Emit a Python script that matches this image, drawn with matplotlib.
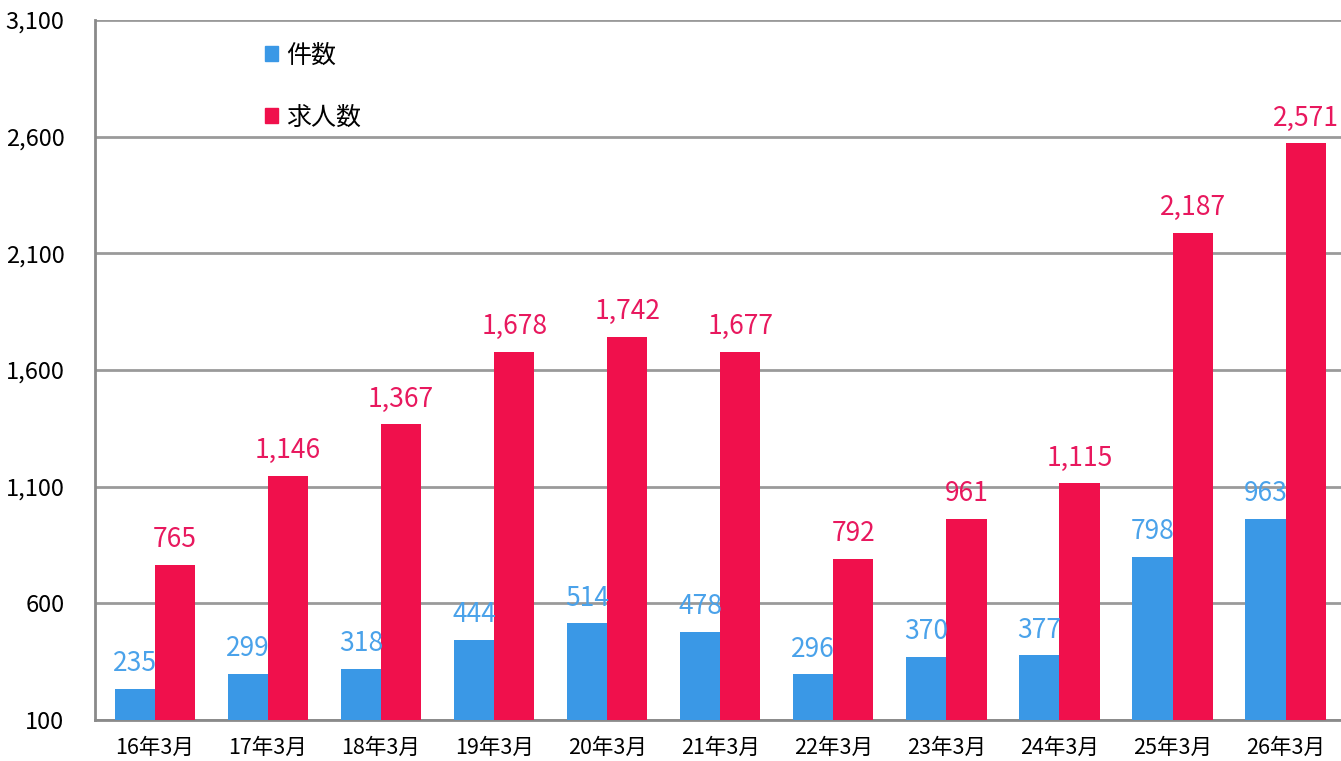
import matplotlib.pyplot as plt
import numpy as np
from matplotlib.patches import Patch

plt.rcParams['font.family'] = ['Noto Sans CJK JP', 'DejaVu Sans']

# === datos ===
months = ["16年3月", "17年3月", "18年3月", "19年3月", "20年3月", "21年3月",
          "22年3月", "23年3月", "24年3月", "25年3月", "26年3月"]
kensu = [235, 299, 318, 444, 514, 478, 296, 370, 377, 798, 963]
kyujin = [765, 1146, 1367, 1678, 1742, 1677, 792, 961, 1115, 2187, 2571]

blue = "#3a98e6"
red = "#f0104c"
blue_txt = "#4aa2ea"
red_txt = "#e8185e"

fig = plt.figure(figsize=(13.41, 7.61), dpi=100)
ax = fig.add_axes([95 / 1341, 41 / 761, 1246 / 1341, 700 / 761])

x = np.arange(len(months))
w = 0.355
ax.bar(x - w / 2, kensu, w, color=blue, zorder=3)
ax.bar(x + w / 2, kyujin, w, color=red, zorder=3)

for xi, v in zip(x, kensu):
    ax.text(xi - w / 2, v + 50, f"{v:,}", ha="center", va="bottom",
            fontsize=19, color=blue_txt, zorder=4)
for xi, v in zip(x, kyujin):
    ax.text(xi + w / 2, v + 50, f"{v:,}", ha="center", va="bottom",
            fontsize=19, color=red_txt, zorder=4)

ax.set_ylim(100, 3100)
ax.set_xlim(-0.53, 10.49)
ax.set_yticks(range(100, 3101, 500))
ax.set_yticklabels([f"{t:,}" for t in range(100, 3101, 500)], fontsize=17)
ax.set_xticks(x)
ax.set_xticklabels(months, fontsize=15.5)
ax.tick_params(axis="both", length=0)
ax.tick_params(axis="y", pad=22)
ax.tick_params(axis="x", pad=12)

ax.yaxis.grid(True, color="#9a9a9a", linewidth=2, zorder=0)
for s in ["top", "right"]:
    ax.spines[s].set_visible(False)
ax.spines["left"].set_color("#8a8a8a")
ax.spines["left"].set_linewidth(2)
ax.spines["bottom"].set_color("#8a8a8a")
ax.spines["bottom"].set_linewidth(2)

handles = [Patch(color=blue, label="件数"), Patch(color=red, label="求人数")]
ax.legend(handles=handles, loc="upper left", bbox_to_anchor=(0.118, 1.0),
          frameon=False, fontsize=18, handlelength=0.55, handleheight=0.55,
          handletextpad=0.3, labelspacing=1.45)

plt.savefig("out.png", dpi=100)
